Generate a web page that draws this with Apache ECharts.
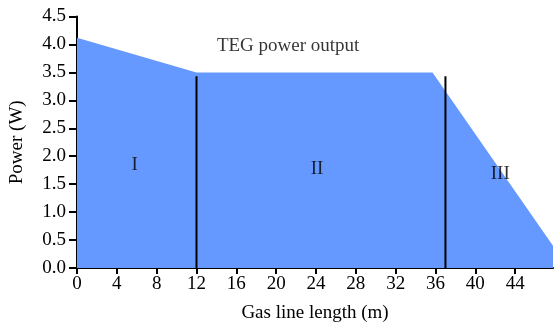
<!DOCTYPE html>
<html><head><meta charset="utf-8">
<script src="https://cdn.jsdelivr.net/npm/echarts@6/dist/echarts.min.js"></script>
<style>html,body{margin:0;padding:0;background:#fff}#c{width:555px;height:328px}</style>
</head><body><div id="c"></div>
<script>
var powerX = [0, 12, 35.7, 47.8];
var powerY = [4.12, 3.5, 3.5, 0.4];
var dividerX = [12, 37];
var dividerTop = [3.43, 3.43];
var regionLabels = ['I', 'II', 'III'];
var regionX = [5.8, 24.1, 42.5];
var regionY = [1.85, 1.78, 1.68];
var titleText = 'TEG power output';
var titlePos = [21.2, 3.97];

var font = '"Liberation Serif","Times New Roman",serif';
var chart = echarts.init(document.getElementById('c'));
var series = [{
  type: 'line',
  data: powerX.map(function(x, i){ return [x, powerY[i]]; }),
  symbol: 'none',
  lineStyle: {width: 0},
  areaStyle: {color: '#6699ff', opacity: 1},
  silent: true,
  z: 1
}];
dividerX.forEach(function(x, i){
  series.push({
    type: 'line', data: [[x, 0], [x, dividerTop[i]]], symbol: 'none',
    lineStyle: {color: '#000', width: 2}, z: 3, silent: true
  });
});
series.push({
  type: 'scatter', symbolSize: 0, z: 4,
  data: regionLabels.map(function(t, i){ return {value: [regionX[i], regionY[i]], name: t}; })
    .concat([{value: titlePos, name: titleText}]),
  label: {show: true, position: 'inside', formatter: '{b}', color: '#000', fontFamily: font, fontSize: 19}
});
chart.setOption({
  animation: false,
  grid: {left: 75, right: 2, top: 16.5, bottom: 60, containLabel: false},
  xAxis: {
    type: 'value', min: 0, max: 47.8, interval: 4,
    name: 'Gas line length (m)', nameLocation: 'middle', nameGap: 36,
    nameTextStyle: {color: '#000', fontFamily: font, fontSize: 19},
    axisLine: {show: true, onZero: false, lineStyle: {color: '#000', width: 2}},
    axisTick: {show: true, inside: false, length: 6, lineStyle: {color: '#000', width: 2}},
    axisLabel: {color: '#000', fontFamily: font, fontSize: 19, margin: 7, showMaxLabel: false},
    splitLine: {show: false}
  },
  yAxis: {
    type: 'value', min: 0, max: 4.5, interval: 0.5,
    name: 'Power (W)', nameLocation: 'middle', nameGap: 50, nameRotate: 90,
    nameTextStyle: {color: '#000', fontFamily: font, fontSize: 19},
    axisLine: {show: true, lineStyle: {color: '#000', width: 2}},
    axisTick: {show: true, inside: false, length: 8, lineStyle: {color: '#000', width: 2}},
    axisLabel: {color: '#000', fontFamily: font, fontSize: 19, margin: 11,
      formatter: function(v){ return v.toFixed(1); }},
    splitLine: {show: false}
  },
  series: series
});
</script></body></html>
